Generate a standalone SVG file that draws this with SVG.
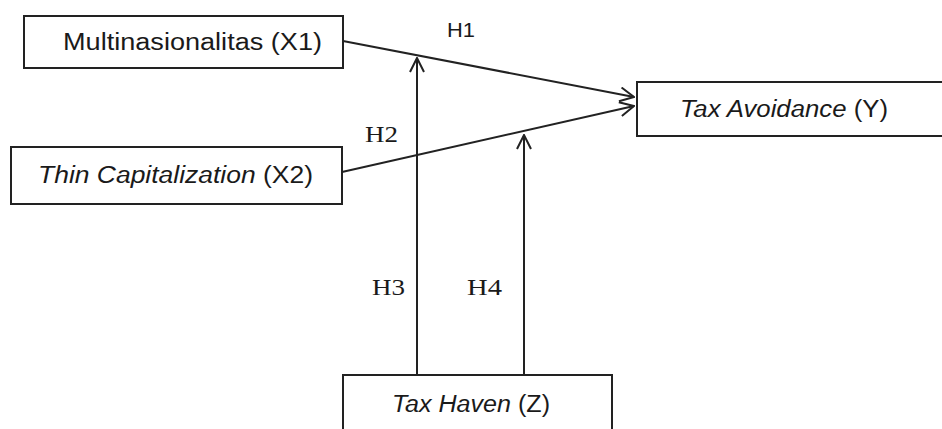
<svg xmlns="http://www.w3.org/2000/svg" width="942" height="429" viewBox="0 0 942 429">
<style>
.box{fill:#fff;stroke:#222;stroke-width:2}
.lbl{font-family:"Liberation Sans",Arial,sans-serif;font-size:23px;fill:#1a1a1a}
.it{font-style:italic}
.h{font-family:"Liberation Serif","Times New Roman",serif;font-size:24px;fill:#1a1a1a}
.hs{font-family:"Liberation Sans",Arial,sans-serif;font-size:21px;fill:#1a1a1a}
.edge{stroke:#222;stroke-width:2;fill:none}
</style>
<defs>
<marker id="arr" viewBox="0 0 16 16" refX="15" refY="8" markerWidth="16" markerHeight="16" markerUnits="userSpaceOnUse" orient="auto">
<path d="M1,1 L15,8 L1,15" fill="none" stroke="#222" stroke-width="2"/>
</marker>
</defs>
<rect width="942" height="429" fill="#fff"/>
<g id="edges">
<line class="edge" x1="343" y1="41" x2="634" y2="97" marker-end="url(#arr)"/>
<line class="edge" x1="342" y1="172" x2="634" y2="106" marker-end="url(#arr)"/>
<line class="edge" x1="417" y1="375" x2="417" y2="58" marker-end="url(#arr)"/>
<line class="edge" x1="524" y1="375" x2="524" y2="135" marker-end="url(#arr)"/>
<text class="hs" x="447" y="37" textLength="28" lengthAdjust="spacingAndGlyphs">H1</text>
<text class="h" x="365" y="142" textLength="33" lengthAdjust="spacingAndGlyphs">H2</text>
<text class="h" x="372" y="295" textLength="33" lengthAdjust="spacingAndGlyphs">H3</text>
<text class="h" x="467" y="295" textLength="35" lengthAdjust="spacingAndGlyphs">H4</text>
</g>
<g id="x1">
<rect class="box" x="24" y="16" width="319" height="52"/>
<text class="lbl" x="63" y="50" textLength="259" lengthAdjust="spacingAndGlyphs">Multinasionalitas  (X1)</text>
</g>
<g id="x2">
<rect class="box" x="11" y="147" width="331" height="57"/>
<text class="lbl" x="38" y="183" textLength="275" lengthAdjust="spacingAndGlyphs"><tspan class="it">Thin Capitalization</tspan> (X2)</text>
</g>
<g id="y">
<rect class="box" x="637" y="82" width="310" height="54"/>
<text class="lbl" x="680" y="117" textLength="208" lengthAdjust="spacingAndGlyphs"><tspan class="it">Tax Avoidance</tspan> (Y)</text>
</g>
<g id="z">
<rect class="box" x="343" y="375" width="269" height="60"/>
<text class="lbl" x="392" y="412" textLength="158" lengthAdjust="spacingAndGlyphs"><tspan class="it">Tax Haven</tspan> (Z)</text>
</g>
</svg>
